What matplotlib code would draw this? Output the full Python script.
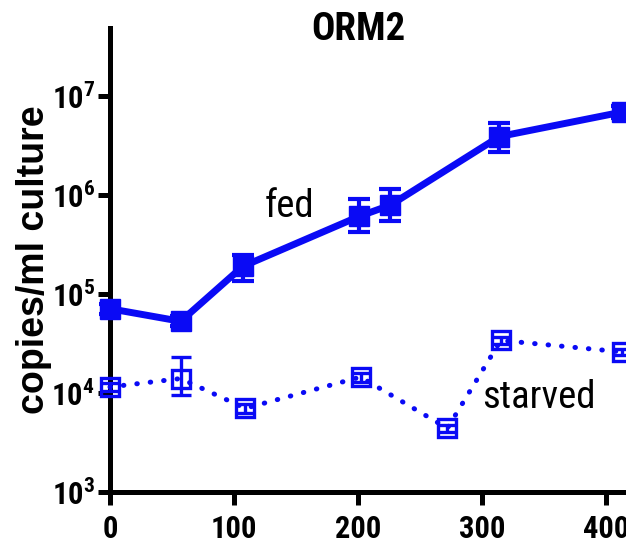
import math
import matplotlib
matplotlib.use("Agg")
import matplotlib.pyplot as plt
from matplotlib.ticker import FixedLocator, FuncFormatter, NullLocator

# time points and copies/ml for each condition
fed_x = [0, 57, 107, 201, 226, 314, 413]
fed_y = [7.1e4, 5.3e4, 1.9e5, 6.1e5, 7.9e5, 3.9e6, 6.9e6]
fed_lo = [6.3e4, 4.7e4, 1.35e5, 4.2e5, 5.5e5, 2.75e6, 6.0e6]
fed_hi = [8.0e4, 6.0e4, 2.5e5, 9.1e5, 1.15e6, 5.4e6, 8.0e6]

starved_x = [0, 57, 109, 202, 272, 315, 413]
starved_y = [1.15e4, 1.4e4, 7.0e3, 1.45e4, 4.4e3, 3.4e4, 2.6e4]
starved_lo = [1.05e4, 9.5e3, 6.3e3, 1.3e4, 4.0e3, 3.1e4, 2.4e4]
starved_hi = [1.25e4, 2.3e4, 7.7e3, 1.6e4, 4.8e3, 3.7e4, 2.8e4]

x_ticks = [0, 100, 200, 300, 400]
y_decades = [3, 4, 5, 6, 7]

plt.rcParams['font.family'] = ['Roboto Condensed', 'Liberation Sans Narrow',
                               'Liberation Sans', 'DejaVu Sans']
plt.rcParams['mathtext.fontset'] = 'custom'
plt.rcParams['mathtext.bf'] = 'Roboto Condensed:bold'
plt.rcParams['mathtext.rm'] = 'Roboto Condensed:bold'

blue = '#0a0af5'

fig = plt.figure(figsize=(6.26, 5.5), dpi=100)
ax = fig.add_axes([0.1757, 0.1055, 0.8243, 0.8435])

def err(y, lo, hi):
    return [[a - b for a, b in zip(y, lo)], [b - a for a, b in zip(y, hi)]]

ax.errorbar(fed_x, fed_y, yerr=err(fed_y, fed_lo, fed_hi), color=blue,
            lw=5, marker='s', ms=15, mec=blue, mfc=blue,
            elinewidth=3, capsize=8, capthick=3, clip_on=False, zorder=3)

line, caps, bars = ax.errorbar(starved_x, starved_y,
                               yerr=err(starved_y, starved_lo, starved_hi),
                               color=blue, lw=3.6, ls=(0, (0.1, 2.6)),
                               marker='s', ms=13, mec=blue, mfc='none', mew=2.4,
                               elinewidth=2.4, capsize=7, capthick=2.4,
                               clip_on=False, zorder=3)
line.set_dash_capstyle('round')

ax.text(125, 6.0e5, 'fed', fontsize=28, ha='left', va='baseline')
ax.text(300, 7.1e3, 'starved', fontsize=28, ha='left', va='baseline')

ax.set_yscale('log')
ax.set_ylim(1e3, 10 ** 7.687)
ax.set_xlim(0, 416)

ax.yaxis.set_major_locator(FixedLocator([10.0 ** d for d in y_decades]))
ax.yaxis.set_minor_locator(NullLocator())
ax.yaxis.set_major_formatter(
    FuncFormatter(lambda v, p: r'$\mathbf{10^{%d}}$' % round(math.log10(v))))
ax.set_xticks(x_ticks)

for s in ['top', 'right']:
    ax.spines[s].set_visible(False)
for s in ['left', 'bottom']:
    ax.spines[s].set_linewidth(3.6)

ax.tick_params(axis='both', which='major', length=9, width=3.6, labelsize=22)
ax.tick_params(axis='y', pad=2)
ax.tick_params(axis='x', pad=7)
for lab in ax.get_xticklabels():
    lab.set_fontweight('bold')

fig.text(358 / 626, 1 - 29 / 550, 'ORM2', fontsize=28, fontweight='bold',
         ha='center', va='center')
fig.text(34 / 626, 0.527, 'copies/ml culture', fontsize=27, fontweight='bold',
         family=['Liberation Sans', 'DejaVu Sans'], rotation=90,
         ha='center', va='center')

fig.savefig('out.png', dpi=100)
